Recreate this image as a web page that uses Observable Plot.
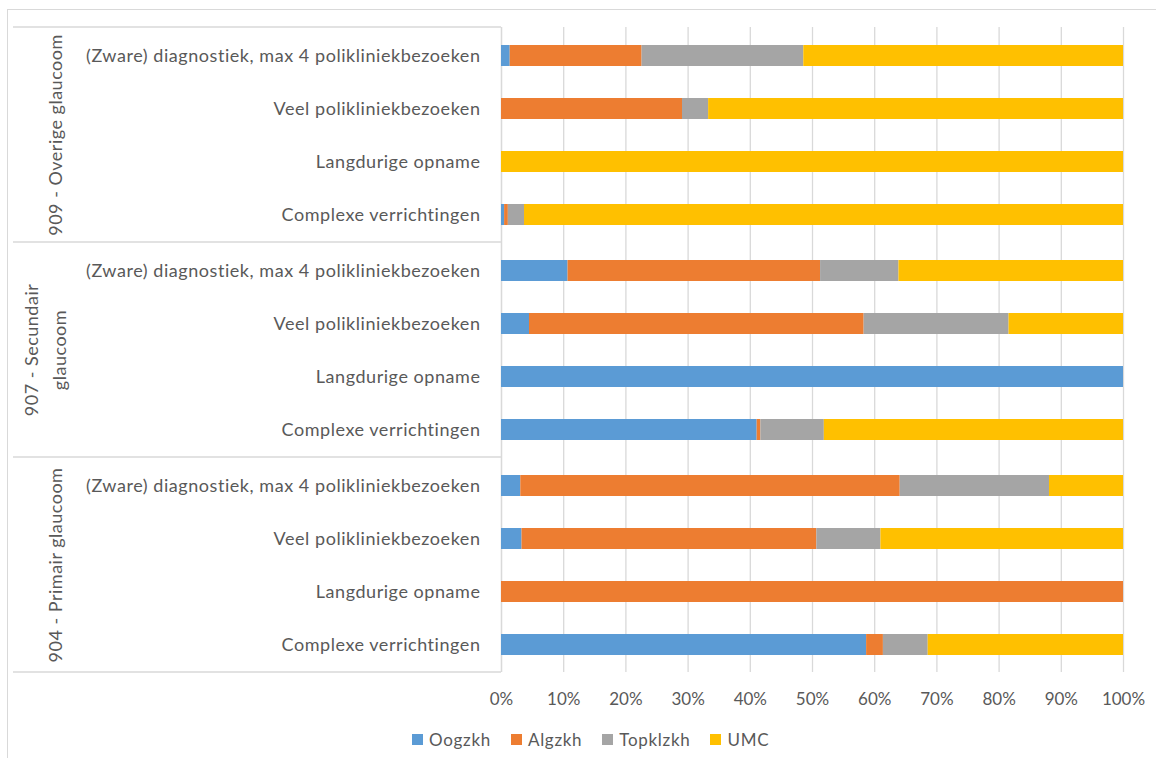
<!DOCTYPE html>
<html>
<head>
<meta charset="utf-8">
<script src="https://cdn.jsdelivr.net/npm/d3@7"></script>
<script src="https://cdn.jsdelivr.net/npm/@observablehq/plot@0.6"></script>
<style>
  html, body { margin: 0; padding: 0; background: #fff; }
  body { width: 1156px; height: 758px; overflow: hidden; position: relative; font-family: Lato, "Open Sans", sans-serif; }
  #frame { position: absolute; left: 7px; top: 9px; width: 1160px; height: 760px; border: 1px solid #d9d9d9; box-sizing: border-box; }
  #chart { position: absolute; left: 0; top: 0; }
  #legend { position: absolute; left: 412px; top: 729px; display: flex; align-items: center; font-size: 17px; letter-spacing: 0.7px; color: #595959; }
  #legend .item { display: flex; align-items: center; margin-right: 20px; }
  #legend .sw { width: 11px; height: 11px; margin-right: 6px; }
  #chart g[aria-label="y-axis tick label"] text { letter-spacing: 0.55px; }
  #chart g[aria-label="text"] text { letter-spacing: 0.5px; }
</style>
</head>
<body>
<div id="frame"></div>
<div id="chart"></div>
<div id="legend"></div>
<script>
// ---- data ----
const groups = ["909 - Overige glaucoom", "907 - Secundair glaucoom", "904 - Primair glaucoom"];
const groupLabels = ["909 - Overige glaucoom", "907 - Secundair\nglaucoom", "904 - Primair glaucoom"];
const categories = [
  "(Zware) diagnostiek, max 4 polikliniekbezoeken",
  "Veel polikliniekbezoeken",
  "Langdurige opname",
  "Complexe verrichtingen"
];
const series = ["Oogzkh", "Algzkh", "Topklzkh", "UMC"];
const colors = ["#5B9BD5", "#ED7D31", "#A5A5A5", "#FFC000"];
// values in %, rows ordered group by group, categories in the order above
const oogzkh   = [1.4, 0, 0, 0.5,   10.7, 4.5, 100, 41.1,   3.1, 3.3, 0, 58.7];
const algzkh   = [21.2, 29.1, 0, 0.6,   40.6, 53.8, 0, 0.6,   61.0, 47.4, 100, 2.7];
const topklzkh = [26.0, 4.2, 0, 2.6,   12.6, 23.3, 0, 10.2,   24.0, 10.3, 0, 7.2];
const umc      = [51.4, 66.7, 100, 96.3,   36.1, 18.4, 0, 48.1,   11.9, 39.0, 0, 31.4];
const xTicks = [0, 10, 20, 30, 40, 50, 60, 70, 80, 90, 100];

// ---- table for Plot ----
const seriesValues = [oogzkh, algzkh, topklzkh, umc];
const rows = [];
groups.forEach((g, gi) => {
  categories.forEach((c, ci) => {
    const i = gi * categories.length + ci;
    series.forEach((s, si) => {
      rows.push({group: g, category: c, series: s, value: seriesValues[si][i]});
    });
  });
});
const groupData = groups.map((g, i) => ({group: g, label: groupLabels[i], multi: groupLabels[i].includes("\n")}));

const textColor = "#595959";
const gridColor = "#d9d9d9";

const plot = Plot.plot({
  width: 1156,
  height: 722,
  marginTop: 26,
  marginBottom: 49,
  marginLeft: 501,
  marginRight: 33,
  style: {fontFamily: "Lato, 'Open Sans', sans-serif", fontSize: "17px", color: textColor, background: "transparent"},
  x: {domain: [0, 100], axis: null, label: null},
  y: {domain: categories, paddingInner: 0.61, paddingOuter: 0.305, axis: null, label: null},
  fy: {domain: groups, padding: 0, axis: null, label: null},
  color: {domain: series, range: colors},
  marks: [
    Plot.gridX({ticks: xTicks, stroke: gridColor, strokeOpacity: 1, strokeWidth: 1.3}),
    Plot.ruleX([0], {stroke: gridColor, strokeWidth: 1.3}),
    Plot.barX(rows, Plot.stackX({y: "category", fy: "group", x: "value", fill: "series", order: series})),
    Plot.axisY({tickSize: 0, tickPadding: 21, fill: textColor, fontSize: 18, label: null}),
    Plot.axisX({ticks: xTicks, tickFormat: d => d + "%", tickSize: 0, tickPadding: 20, fill: textColor, fontSize: 17, label: null}),
    Plot.text(groupData.filter(d => !d.multi), {fy: "group", text: "label", frameAnchor: "left", textAnchor: "middle", dx: -445, rotate: -90, fill: textColor, fontSize: 18}),
    Plot.text(groupData.filter(d => d.multi), {fy: "group", text: "label", frameAnchor: "left", textAnchor: "middle", dx: -458, rotate: -90, lineHeight: 1.55, fill: textColor, fontSize: 18})
  ]
});

document.getElementById("chart").appendChild(plot);

// group separator lines across the label area, positioned by the fy scale
const fy = plot.scale("fy");
const svg = d3.select(plot);
const bounds = groups.map(g => fy.apply(g));
bounds.push(fy.apply(groups[groups.length - 1]) + fy.bandwidth);
svg.append("g")
  .selectAll("line")
  .data(bounds)
  .join("line")
  .attr("x1", 13)
  .attr("x2", 501)
  .attr("y1", d => d)
  .attr("y2", d => d)
  .attr("stroke", gridColor)
  .attr("stroke-width", 1.3);

// legend
const legend = d3.select("#legend");
series.forEach((s, i) => {
  const item = legend.append("div").attr("class", "item");
  item.append("div").attr("class", "sw").style("background", colors[i]);
  item.append("span").text(s);
});
</script>
</body>
</html>
